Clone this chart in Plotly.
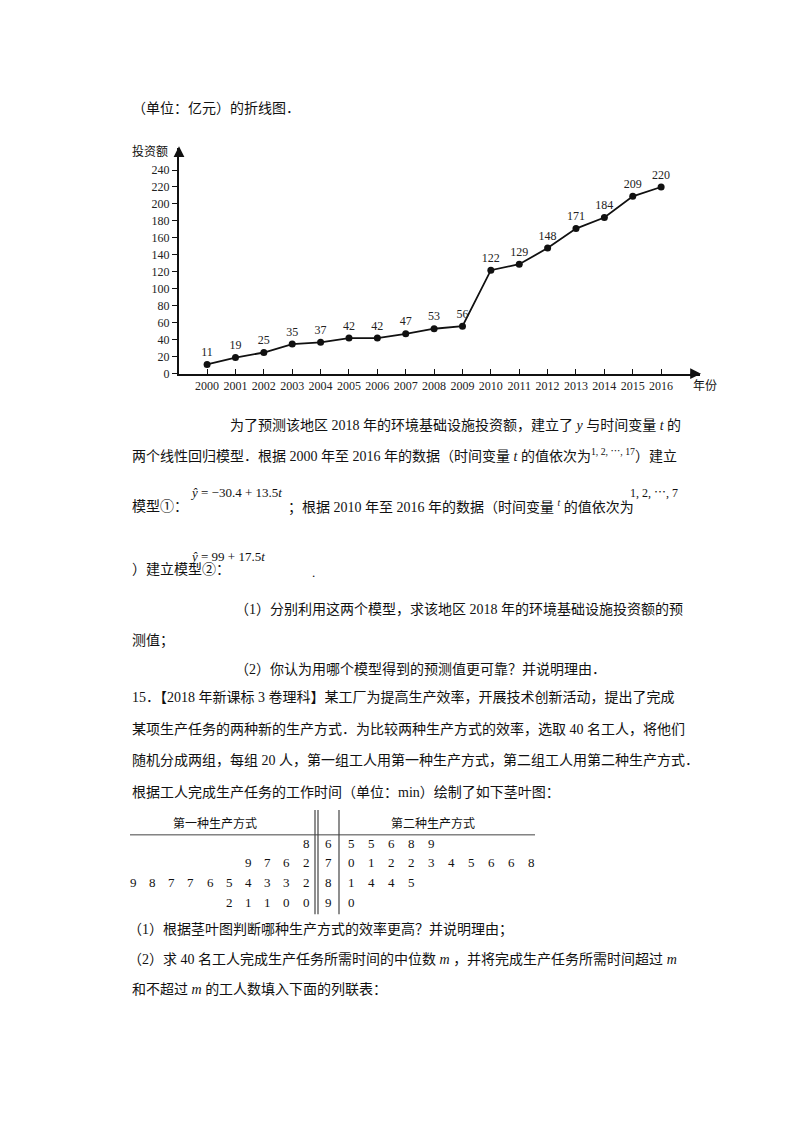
import plotly.graph_objects as go

years = list(range(2000, 2017))
invest = [11, 19, 25, 35, 37, 42, 42, 47, 53, 56, 122, 129, 148, 171, 184, 209, 220]
y_ticks = list(range(0, 241, 20))

stems = [6, 7, 8, 9]
left_leaves = [[8], [9, 7, 6, 2], [9, 8, 7, 7, 6, 5, 4, 3, 3, 2], [2, 1, 1, 0, 0]]
right_leaves = [[5, 5, 6, 8, 9], [0, 1, 2, 2, 3, 4, 5, 6, 6, 8], [1, 4, 4, 5], [0]]

W, H = 800, 1132
FONT = "Liberation Serif, Times New Roman, Noto Sans CJK SC"
def X(p): return p / W
def Y(p): return 1 - p / H

fig = go.Figure()
fig.add_trace(go.Scatter(
    x=years, y=invest, mode="lines+markers+text",
    text=[str(v) for v in invest], textposition="top center",
    textfont=dict(family=FONT, size=12, color="#222"),
    line=dict(color="#111", width=1.8),
    marker=dict(color="#111", size=7), cliponaxis=False, showlegend=False))

fig.update_layout(
    width=W, height=H, margin=dict(l=0, r=0, t=0, b=0),
    paper_bgcolor="white", plot_bgcolor="white",
    xaxis=dict(domain=[X(171), X(692)], range=[1999.01, 2017.37],
               tickvals=years, ticktext=[str(y) for y in years],
               ticks="inside", ticklen=5, tickcolor="#111",
               showline=True, linecolor="#111", linewidth=2, showgrid=False, zeroline=False,
               tickfont=dict(family=FONT, size=12, color="#222")),
    yaxis=dict(domain=[Y(368), Y(141)], range=[0, 265.8], tickvals=y_ticks,
               ticks="outside", ticklen=5, tickcolor="#111",
               showline=True, linecolor="#111", linewidth=2, showgrid=False, zeroline=False,
               tickfont=dict(family=FONT, size=12, color="#222")),
)

ann = []
def T(x, y, s, size=14, anchor="left"):
    ann.append(dict(x=X(x), y=Y(y), xref="paper", yref="paper", text=s, showarrow=False,
                    xanchor=anchor, yanchor="middle",
                    font=dict(family=FONT, size=size, color="#111")))

# axis arrows
ann.append(dict(x=X(693), y=Y(368), ax=-12, ay=0, xref="paper", yref="paper",
                showarrow=True, arrowhead=2, arrowsize=1.2,
                arrowwidth=1.8, arrowcolor="#111", text=""))
ann.append(dict(x=X(171), y=Y(139), ax=0, ay=12, xref="paper", yref="paper",
                showarrow=True, arrowhead=2, arrowsize=1.2,
                arrowwidth=1.8, arrowcolor="#111", text=""))
T(142, 144, "投资额", 12, "center")
T(683, 380, "年份", 12, "left")

T(122, 101, "（单位：亿元）的折线图．")
T(220, 420, "为了预测该地区 2018 年的环境基础设施投资额，建立了 <i>y</i> 与时间变量 <i>t</i> 的")
T(122, 450, "两个线性回归模型．根据 2000 年至 2016 年的数据（时间变量 <i>t</i> 的值依次为<sup>1, 2, ⋯, 17</sup>）建立")
T(180, 488, "<i>ŷ</i> = −30.4 + 13.5<i>t</i>", 13)
T(122, 502, "模型①：")
T(278, 502, "；根据 2010 年至 2016 年的数据（时间变量 <sup><i>t</i></sup> 的值依次为")
T(620, 488, "1, 2, ⋯, 7", 12)
T(180, 552, "<i>ŷ</i> = 99 + 17.5<i>t</i>", 13)
T(122, 565, "）建立模型②：")
T(302, 568, ".", 13)
T(225, 605, "（1）分别利用这两个模型，求该地区 2018 年的环境基础设施投资额的预")
T(122, 637, "测值；")
T(225, 665, "（2）你认为用哪个模型得到的预测值更可靠？并说明理由．")
T(122, 693, "15．【2018 年新课标 3 卷理科】某工厂为提高生产效率，开展技术创新活动，提出了完成")
T(122, 725, "某项生产任务的两种新的生产方式．为比较两种生产方式的效率，选取 40 名工人，将他们")
T(122, 757, "随机分成两组，每组 20 人，第一组工人用第一种生产方式，第二组工人用第二种生产方式．")
T(122, 789, "根据工人完成生产任务的工作时间（单位：min）绘制了如下茎叶图：")

# stem-and-leaf
T(207, 821, "第一种生产方式", 12, "center")
T(425, 821, "第二种生产方式", 12, "center")
row_y = [841, 860, 880, 900]
for i, s in enumerate(stems):
    T(320, row_y[i], str(s), 13, "center")
    for j, v in enumerate(reversed(left_leaves[i])):
        T(298 - 19.2 * j, row_y[i], str(v), 13, "center")
    for j, v in enumerate(right_leaves[i]):
        T(343 + 20 * j, row_y[i], str(v), 13, "center")

T(118, 927, "（1）根据茎叶图判断哪种生产方式的效率更高？并说明理由；")
T(118, 957, "（2）求 40 名工人完成生产任务所需时间的中位数 <i>m</i> ，并将完成生产任务所需时间超过 <i>m</i>")
T(122, 988, "和不超过 <i>m</i> 的工人数填入下面的列联表：")

fig.update_layout(annotations=ann)

shapes = [
    dict(type="line", xref="paper", yref="paper", x0=X(122), x1=X(527), y0=Y(832), y1=Y(832),
         line=dict(color="#444", width=1)),
]
for xv in (307, 310, 331):
    shapes.append(dict(type="line", xref="paper", yref="paper", x0=X(xv), x1=X(xv),
                       y0=Y(807), y1=Y(912), line=dict(color="#444", width=1.2)))
fig.update_layout(shapes=shapes)

fig.write_html("out.html")
